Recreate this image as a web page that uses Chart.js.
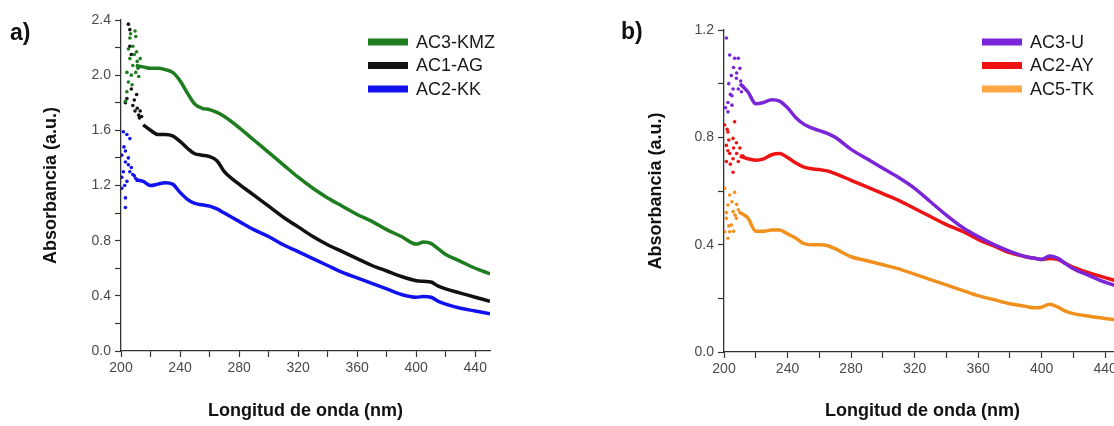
<!DOCTYPE html>
<html>
<head>
<meta charset="utf-8">
<script src="https://cdn.jsdelivr.net/npm/chart.js@4.4.0/dist/chart.umd.min.js"></script>
<style>
  html, body { margin: 0; padding: 0; background: #fff; }
  body { width: 1114px; height: 426px; position: relative; overflow: hidden; }
  canvas { position: absolute; top: 0; }
  #chartA { left: 0; }
  #chartB { left: 600px; }
</style>
</head>
<body>
<canvas id="chartA" width="500" height="426"></canvas>
<canvas id="chartB" width="540" height="426"></canvas>
<script>
// ---- panel a) data ----
const nmA = [210, 215, 220, 225, 230, 235, 240, 245, 250, 255, 260, 265, 270, 280, 290, 300, 310, 320, 330, 340, 350, 360, 370, 380, 390, 400, 405, 410, 415, 420, 430, 440, 450];
const ac3KMZ = [2.07, 2.06, 2.05, 2.05, 2.04, 2.02, 1.96, 1.87, 1.79, 1.76, 1.75, 1.73, 1.70, 1.62, 1.53, 1.44, 1.35, 1.26, 1.18, 1.11, 1.05, 0.99, 0.94, 0.88, 0.83, 0.775, 0.79, 0.78, 0.74, 0.70, 0.65, 0.60, 0.56];
const ac1AG = [null, 1.64, 1.60, 1.57, 1.57, 1.56, 1.52, 1.47, 1.43, 1.42, 1.41, 1.38, 1.30, 1.21, 1.13, 1.05, 0.97, 0.90, 0.83, 0.77, 0.72, 0.67, 0.62, 0.58, 0.54, 0.51, 0.505, 0.50, 0.47, 0.45, 0.42, 0.39, 0.36];
const ac2KK = [1.24, 1.23, 1.20, 1.21, 1.22, 1.21, 1.15, 1.10, 1.07, 1.06, 1.05, 1.03, 1.00, 0.94, 0.88, 0.83, 0.77, 0.72, 0.67, 0.62, 0.57, 0.53, 0.49, 0.45, 0.41, 0.39, 0.395, 0.39, 0.36, 0.34, 0.31, 0.29, 0.27];

// noisy readings below ~215 nm (shown as dots)
const kmzDotNm = [203, 204, 205, 205, 206, 206, 207, 208, 208, 209.5, 210, 210.6, 211, 212, 213, 204, 206.5, 209, 211.5, 207.5, 210];
const kmzDotVal = [1.81, 1.88, 1.95, 2.19, 2.27, 2.12, 2.00, 2.21, 2.07, 2.32, 2.28, 2.17, 2.10, 1.99, 2.12, 2.02, 2.30, 2.15, 2.05, 1.93, 2.02];
const agDotNm = [205, 206, 207, 203, 208, 209.5, 210.6, 212, 213, 214, 206, 204, 209, 211, 212.5, 207];
const agDotVal = [2.37, 2.21, 2.15, 1.80, 1.78, 1.74, 1.86, 1.71, 1.74, 1.70, 2.33, 1.83, 1.82, 1.76, 1.69, 1.90];
const kkDotNm = [200.5, 201.6, 203, 204, 205, 206, 200.5, 201.6, 203, 204, 206, 200.5, 203, 203, 208, 210, 202, 205, 207, 209, 202.5];
const kkDotVal = [1.42, 1.59, 1.37, 1.57, 1.35, 1.54, 1.26, 1.30, 1.11, 1.23, 1.30, 1.18, 1.04, 1.45, 1.28, 1.25, 1.48, 1.40, 1.33, 1.27, 1.20];

// ---- panel b) data ----
const nmB = [210, 215, 220, 225, 230, 235, 240, 245, 250, 255, 260, 265, 270, 280, 290, 300, 310, 320, 330, 340, 350, 360, 370, 380, 390, 395, 400, 405, 410, 415, 420, 430, 440, 450];
const ac3U = [1.00, 0.97, 0.925, 0.93, 0.94, 0.935, 0.91, 0.875, 0.85, 0.835, 0.825, 0.815, 0.80, 0.755, 0.72, 0.685, 0.65, 0.61, 0.56, 0.51, 0.465, 0.43, 0.40, 0.375, 0.355, 0.35, 0.345, 0.358, 0.35, 0.33, 0.31, 0.285, 0.26, 0.24];
const ac2AY = [0.73, 0.72, 0.715, 0.72, 0.735, 0.74, 0.725, 0.705, 0.69, 0.683, 0.68, 0.675, 0.665, 0.64, 0.615, 0.59, 0.565, 0.535, 0.505, 0.475, 0.45, 0.42, 0.395, 0.37, 0.355, 0.35, 0.345, 0.348, 0.345, 0.33, 0.315, 0.295, 0.277, 0.26];
const ac5TK = [0.52, 0.50, 0.45, 0.45, 0.455, 0.455, 0.44, 0.425, 0.405, 0.40, 0.40, 0.397, 0.385, 0.355, 0.34, 0.325, 0.31, 0.29, 0.27, 0.25, 0.23, 0.21, 0.195, 0.18, 0.17, 0.165, 0.167, 0.178, 0.168, 0.152, 0.143, 0.133, 0.125, 0.118];

const uDotNm = [201.5, 203.6, 206.7, 209, 210, 204.6, 207.8, 205.7, 202.5, 205, 202.5, 205, 209, 211, 203, 206, 208, 204, 210.5, 212, 201];
const uDotVal = [1.17, 1.107, 1.095, 1.095, 1.057, 1.03, 1.02, 0.98, 0.93, 0.92, 0.895, 0.955, 0.98, 0.97, 1.00, 1.06, 1.04, 0.96, 1.01, 0.99, 0.91];
const ayDotNm = [200.4, 206.7, 202.5, 205.7, 201.5, 207.8, 203.6, 201.5, 205.7, 209, 205.7, 202.5, 211, 203, 206, 208, 210, 204, 212, 202];
const ayDotVal = [0.846, 0.858, 0.82, 0.796, 0.77, 0.78, 0.74, 0.71, 0.72, 0.71, 0.67, 0.75, 0.73, 0.79, 0.76, 0.74, 0.76, 0.70, 0.73, 0.83];
const tkDotNm = [200.4, 203.6, 206.7, 202.5, 205.7, 201.5, 204.6, 200.4, 202.5, 207.8, 203.6, 209, 205, 207, 210, 201.5, 203, 206, 208];
const tkDotVal = [0.61, 0.585, 0.595, 0.548, 0.523, 0.498, 0.473, 0.448, 0.424, 0.498, 0.448, 0.53, 0.56, 0.51, 0.52, 0.52, 0.47, 0.45, 0.55];

const xTicksEvery = 20;
const xLabelEvery = 40;

Chart.defaults.font.family = '"Liberation Sans", Arial, sans-serif';
Chart.defaults.color = "#4a4a4a";

function pts(xs, ys) {
  return xs.map((x, i) => ({ x: x, y: ys[i] }));
}

function curve(label, xs, ys, color) {
  return {
    label: label,
    data: pts(xs, ys),
    borderColor: color,
    backgroundColor: color,
    borderWidth: 3.5,
    pointRadius: 0,
    tension: 0.3,
    cubicInterpolationMode: "monotone",
    inLegend: true,
  };
}

function dots(xs, ys, color) {
  return {
    label: "",
    data: pts(xs, ys),
    showLine: false,
    pointRadius: 1.8,
    pointBorderWidth: 0,
    pointBackgroundColor: color,
    borderColor: color,
  };
}

// legend drawn as thick strips next to the names, top right of the plot
const stripLegend = {
  id: "stripLegend",
  afterDraw(chart, args, opts) {
    const ctx = chart.ctx;
    ctx.save();
    ctx.font = '18px "Liberation Sans", Arial, sans-serif';
    ctx.textBaseline = "middle";
    let row = 0;
    chart.data.datasets.forEach((ds) => {
      if (!ds.inLegend) return;
      const y = opts.y + row * opts.dy;
      ctx.fillStyle = ds.legendColor || ds.borderColor;
      ctx.fillRect(opts.x, y - 3.5, 40, 7);
      ctx.fillStyle = "#1a1a1a";
      ctx.fillText(ds.label, opts.x + 48, y + 1);
      row++;
    });
    ctx.restore();
  },
};

const panelTag = {
  id: "panelTag",
  afterDraw(chart, args, opts) {
    const ctx = chart.ctx;
    ctx.save();
    ctx.font = 'bold 23px "Liberation Sans", Arial, sans-serif';
    ctx.fillStyle = "#111";
    ctx.textBaseline = "alphabetic";
    ctx.fillText(opts.text, opts.x, opts.y);
    ctx.restore();
  },
};

function axes(yMax, yWidth, xHeight, yTitlePad) {
  return {
    x: {
      type: "linear",
      min: 200,
      max: 450,
      border: { color: "#333", width: 1.3 },
      grid: { drawOnChartArea: false, tickLength: 6, tickColor: "#333", tickWidth: 1.2 },
      ticks: {
        stepSize: xTicksEvery,
        includeBounds: false,
        autoSkip: false,
        maxRotation: 0,
        padding: 3,
        font: { size: 14 },
        callback: (v) => (v % xLabelEvery === 0 ? v : ""),
      },
      title: {
        display: true,
        text: "Longitud de onda (nm)",
        color: "#111",
        font: { size: 18, weight: "bold" },
        padding: { top: 0, bottom: 4 },
      },
      afterFit: (s) => { s.height = xHeight; },
    },
    y: {
      min: 0,
      max: yMax,
      border: { color: "#333", width: 1.3 },
      grid: { drawOnChartArea: false, tickLength: 6, tickColor: "#333", tickWidth: 1.2 },
      ticks: {
        stepSize: 0.2,
        autoSkip: false,
        padding: 4,
        font: { size: 14 },
        callback: (v) => (Math.round(v * 10) % 4 === 0 ? v.toFixed(1) : ""),
      },
      title: {
        display: true,
        text: "Absorbancia (a.u.)",
        color: "#111",
        font: { size: 18, weight: "bold" },
        padding: { top: yTitlePad, bottom: 0 },
      },
      afterFit: (s) => { s.width = yWidth; },
    },
  };
}

// Panel a)
new Chart(document.getElementById("chartA"), {
  type: "line",
  data: {
    datasets: [
      curve("AC3-KMZ", nmA, ac3KMZ, "#1e7d1e"),
      curve("AC1-AG", nmA, ac1AG, "#111111"),
      curve("AC2-KK", nmA, ac2KK, "#1212f0"),
      dots(kmzDotNm, kmzDotVal, "#1e7d1e"),
      dots(agDotNm, agDotVal, "#111111"),
      dots(kkDotNm, kkDotVal, "#1212f0"),
    ],
  },
  options: {
    responsive: false,
    animation: false,
    spanGaps: true,
    layout: { padding: { left: 0, right: 10, top: 20, bottom: 0 } },
    scales: axes(2.4, 121, 75, 40),
    plugins: {
      legend: { display: false },
      tooltip: { enabled: false },
      stripLegend: { x: 368, y: 42, dy: 23.5 },
      panelTag: { text: "a)", x: 10, y: 40 },
    },
  },
  plugins: [stripLegend, panelTag],
});

// Panel b)
const orangeLine = curve("AC5-TK", nmB, ac5TK, "#f2901e");
orangeLine.legendColor = "#ffa845";
new Chart(document.getElementById("chartB"), {
  type: "line",
  data: {
    datasets: [
      curve("AC3-U", nmB, ac3U, "#7a26d8"),
      curve("AC2-AY", nmB, ac2AY, "#ee1212"),
      orangeLine,
      dots(uDotNm, uDotVal, "#7a26d8"),
      dots(ayDotNm, ayDotVal, "#ee1212"),
      dots(tkDotNm, tkDotVal, "#f2901e"),
    ],
  },
  options: {
    responsive: false,
    animation: false,
    spanGaps: true,
    layout: { padding: { left: 0, right: 19, top: 30, bottom: 0 } },
    scales: axes(1.2, 124, 74, 45),
    plugins: {
      legend: { display: false },
      tooltip: { enabled: false },
      stripLegend: { x: 382, y: 42, dy: 23.5 },
      panelTag: { text: "b)", x: 21, y: 39 },
    },
  },
  plugins: [stripLegend, panelTag],
});
</script>
</body>
</html>
